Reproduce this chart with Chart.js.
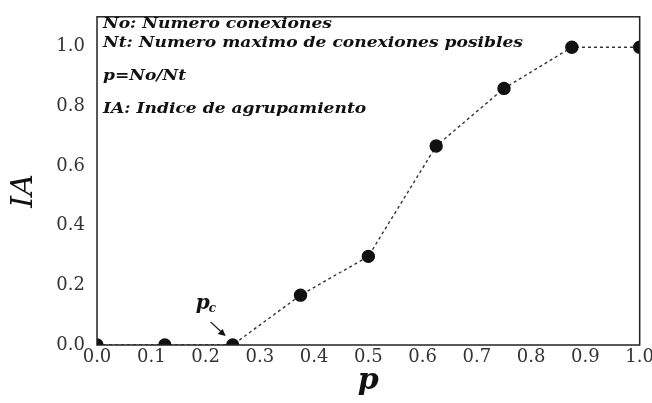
<!DOCTYPE html>
<html><head><meta charset="utf-8">
<script src="https://cdn.jsdelivr.net/npm/chart.js@4"></script>
<style>html,body{margin:0;padding:0;background:#fff}#w{width:652px;height:403px}</style>
</head><body><div id="w"><canvas id="c"></canvas></div>
<script>
const pValues = [0.0, 0.125, 0.25, 0.375, 0.5, 0.625, 0.75, 0.875, 1.0];
const iaValues = [0.0, 0.0, 0.0, 0.167, 0.297, 0.667, 0.86, 0.998, 0.998];
const xTicks = [0.0,0.1,0.2,0.3,0.4,0.5,0.6,0.7,0.8,0.9,1.0];
const yTicks = [0.0,0.2,0.4,0.6,0.8,1.0];
const noteLines = ["No: Numero conexiones", "Nt: Numero maximo de conexiones posibles", "p=No/Nt", "IA: Indice de agrupamiento"];
const noteY = [1.075, 1.012, 0.902, 0.792];
const xTitle = "p", yTitle = "IA";

const serif = "'DejaVu Serif', serif";
const deco = {
  id:'deco',
  afterDraw(ch){
    const {ctx, chartArea:a, scales:{x,y}} = ch;
    ctx.save();
    ctx.strokeStyle='#222'; ctx.lineWidth=1.5;
    ctx.strokeRect(a.left, a.top, a.right-a.left, a.bottom-a.top);
    ctx.fillStyle='#111';
    ctx.font = "italic bold 15px " + serif;
    ctx.textBaseline='middle';
    const sx = 420 / ctx.measureText(noteLines[1]).width;
    noteLines.forEach((t,i)=>{
      ctx.save(); ctx.translate(a.left+6, y.getPixelForValue(noteY[i])); ctx.scale(sx,1);
      ctx.fillText(t, 0, 0); ctx.restore();
    });
    // p_c label
    const px = x.getPixelForValue(pValues[2]), py = y.getPixelForValue(iaValues[2]);
    ctx.font = "italic bold 20px " + serif;
    ctx.fillText("p", px-37, py-41);
    ctx.font = "italic bold 12px " + serif;
    ctx.fillText("c", px-24, py-36);
    ctx.lineWidth=1.2;
    ctx.beginPath(); ctx.moveTo(px-22, py-23); ctx.lineTo(px-8, py-10); ctx.stroke();
    ctx.beginPath(); ctx.moveTo(px-7, py-9); ctx.lineTo(px-15, py-11); ctx.lineTo(px-10, py-16); ctx.closePath(); ctx.fill();
    // titles
    ctx.font = "italic bold 30px " + serif;
    ctx.textAlign='center';
    ctx.fillText(xTitle, (a.left+a.right)/2, 381);
    ctx.font = "italic 30px " + serif;
    ctx.translate(24, (a.top+a.bottom)/2+10); ctx.rotate(-Math.PI/2);
    ctx.fillText(yTitle, 0, 0);
    ctx.restore();
  }
};
new Chart(document.getElementById('c'), {
  type:'line',
  data:{ datasets:[{ data: pValues.map((p,i)=>({x:p,y:iaValues[i]})),
    borderColor:'#333', borderWidth:1.4, borderDash:[3,3], pointRadius:6, pointBackgroundColor:'#111', pointBorderColor:'#111', pointHoverRadius:6, tension:0 }]},
  options:{
    responsive:true, maintainAspectRatio:false, animation:false,
    layout:{padding:{top:14,right:11,left:0,bottom:0}},
    plugins:{legend:{display:false},tooltip:{enabled:false}},
    scales:{
      x:{type:'linear',min:0,max:1,
        afterBuildTicks(s){s.ticks=xTicks.map(v=>({value:v}));},
        afterFit(s){s.height=58;},
        grid:{display:false, drawTicks:true, tickLength:4, color:'#222'},
        border:{display:false},
        ticks:{color:'#333',font:{family:serif,size:18},padding:-2,maxRotation:0,autoSkip:false,callback:v=>v.toFixed(1)}},
      y:{type:'linear',min:0,max:1.1,
        afterBuildTicks(s){s.ticks=yTicks.map(v=>({value:v}));},
        afterFit(s){s.width=97;},
        grid:{display:false, drawTicks:true, tickLength:6, color:'#222'},
        border:{display:false},
        ticks:{color:'#333',font:{family:serif,size:18},padding:6,callback:v=>v.toFixed(1)}}
    }
  },
  plugins:[deco]
});
</script></body></html>
